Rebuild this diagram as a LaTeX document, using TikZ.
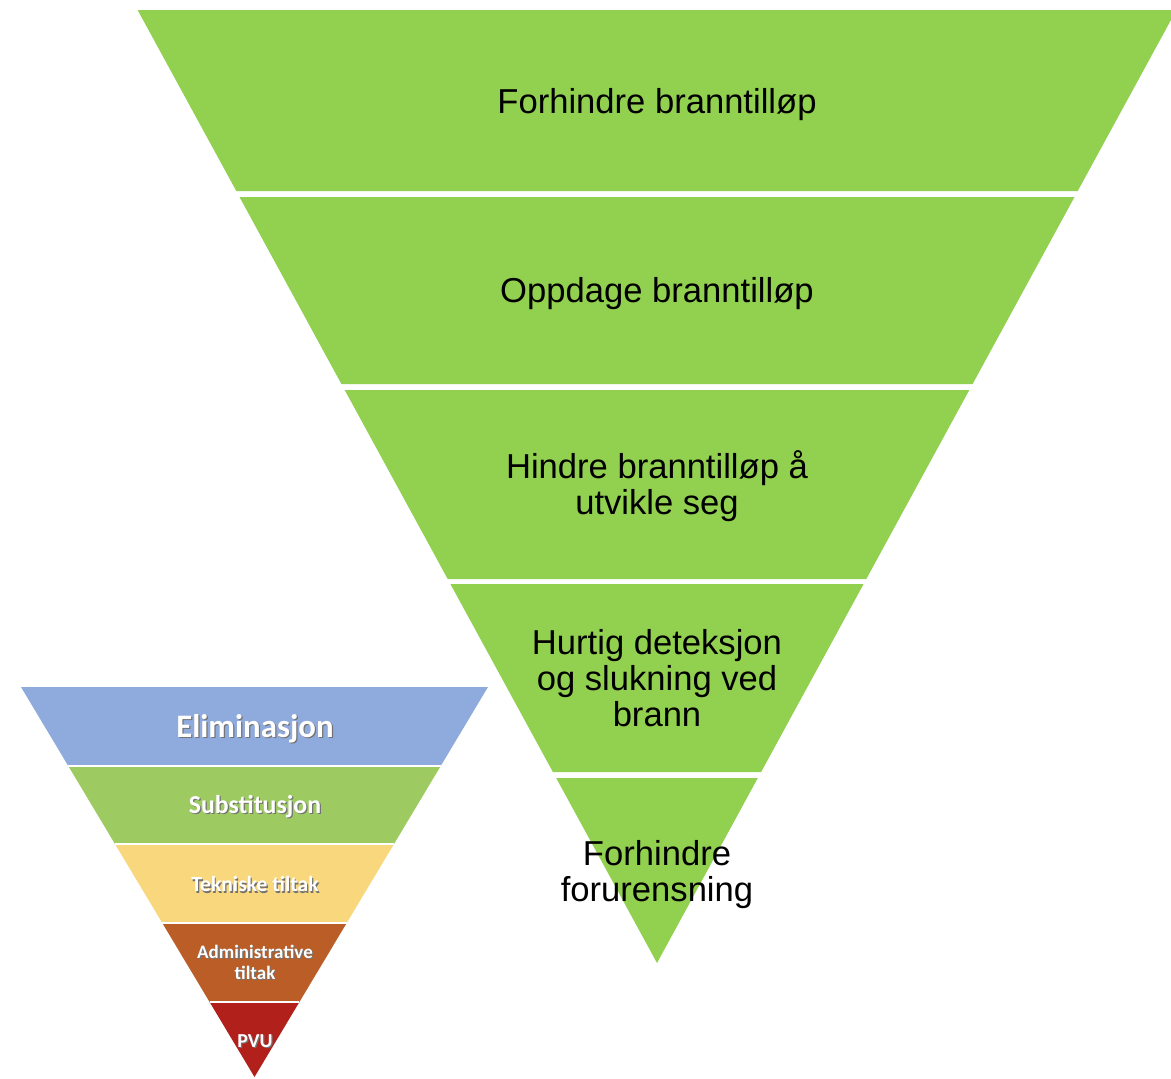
\documentclass[tikz,border=0pt]{standalone}
\usepackage{fontspec}
\setmainfont{Liberation Sans}
\newfontfamily\calibri{Carlito}
\usepackage{xcolor}
\definecolor{bandgreen}{HTML}{92D050}
\definecolor{elimblue}{HTML}{8FAADC}
\definecolor{subgreen}{HTML}{9DCB62}
\definecolor{tekyellow}{HTML}{F9D77C}
\definecolor{admbrown}{HTML}{BA5D27}
\definecolor{pvured}{HTML}{B2201B}
\newcommand{\shad}[1]{\makebox[0pt][l]{\hspace{0.6pt}\raisebox{-0.6pt}{\color{black!55}#1}}#1}

\begin{document}
\begin{tikzpicture}[x=0.5pt,y=-0.5pt,
  band/.style={fill=bandgreen},
  big label/.style={font=\fontsize{17.3}{18}\selectfont,align=center,text=black,inner sep=0pt},
  small label/.style={font=\calibri\bfseries,text=white,align=center,inner sep=0pt},
  divider/.style={draw=white,line width=0.6pt}]
    \useasboundingbox (0,0) rectangle (1171,1078);
    \begin{scope}
        \clip (0,0) rectangle (1171,1078);
        % big funnel
        \fill[band] (137.6,10) -- (1176.4,10) -- (1077.7,191) -- (236.3,191) -- cycle;
        \fill[band] (239.5,197) -- (1074.5,197) -- (972.6,384) -- (341.4,384) -- cycle;
        \fill[band] (344.7,390) -- (969.3,390) -- (866.3,579) -- (447.7,579) -- cycle;
        \fill[band] (450.4,584) -- (863.6,584) -- (761.1,772) -- (552.9,772) -- cycle;
        \fill[band] (556.2,778) -- (757.8,778) -- (657,963) -- cycle;
    \end{scope}

    \node[big label] (prevent) at (657,105) {Forhindre branntilløp};
    \node[big label] (detect) at (657,294) {Oppdage branntilløp};
    \node[big label] (hinder) at (657,486) {Hindre branntilløp å\\utvikle seg};
    \node[big label] (quick) at (657,678) {Hurtig deteksjon\\og slukning ved\\brann};
    \node[big label] (pollution) at (657,875) {Forhindre\\forurensning};

    % small hierarchy
    \fill[elimblue] (21,687) -- (488,687) -- (440.7,766) -- (68.3,766) -- cycle;
    \fill[subgreen] (68.3,766) -- (440.7,766) -- (394,844) -- (115,844) -- cycle;
    \fill[tekyellow] (115,844) -- (394,844) -- (346.7,923) -- (162.3,923) -- cycle;
    \fill[admbrown] (162.3,923) -- (346.7,923) -- (299.4,1002) -- (209.6,1002) -- cycle;
    \fill[pvured] (209.6,1002) -- (299.4,1002) -- (254.5,1077) -- cycle;
    \draw[divider] (68.3,766) -- (440.7,766);
    \draw[divider] (115,844) -- (394,844);
    \draw[divider] (162.3,923) -- (346.7,923);
    \draw[divider] (209.6,1002) -- (299.4,1002);

    \node[small label,font=\calibri\bfseries\fontsize{16.4}{18}\selectfont] (elim) at (255,729) {\shad{Eliminasjon}};
    \node[small label,font=\calibri\bfseries\fontsize{12.9}{14}\selectfont] (subst) at (255,807) {\shad{Substitusjon}};
    \node[small label,font=\calibri\bfseries\fontsize{10.8}{12}\selectfont] (tech) at (255,885) {\shad{Tekniske tiltak}};
    \node[small label,font=\calibri\bfseries\fontsize{9.5}{10.5}\selectfont] (admin) at (255,963) {\shad{Administrative}\\\shad{tiltak}};
    \node[small label,font=\calibri\bfseries\fontsize{9.9}{11}\selectfont] (pvu) at (255,1042) {\shad{PVU}};
\end{tikzpicture}
\end{document}
